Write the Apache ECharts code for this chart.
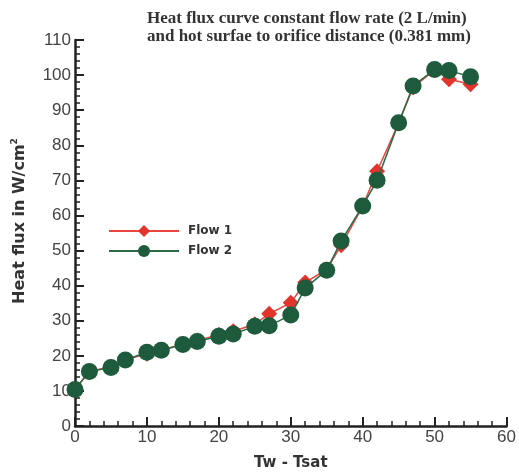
<!DOCTYPE html>
<html>
<head>
<meta charset="utf-8">
<script src="https://cdn.jsdelivr.net/npm/echarts@6/dist/echarts.min.js"></script>
<style>
  html, body { margin: 0; padding: 0; background: #fff; }
  #main { width: 519px; height: 476px; }
</style>
</head>
<body>
<div id="main"></div>
<script>
// Tw - Tsat values
var tw = [0, 2, 5, 7, 10, 12, 15, 17, 20, 22, 25, 27, 30, 32, 35, 37, 40, 42, 45, 47, 50, 52, 55];
// heat flux, W/cm2
var flow1 = [10.5, 15.6, 16.8, 18.9, 20.6, 21.7, 23.3, 24.4, 26.0, 27.0, 29.0, 32.0, 35.1, 40.9, 44.6, 51.5, 62.6, 72.6, 86.3, 96.5, 101.5, 98.8, 97.4];
var flow2 = [10.4, 15.5, 16.7, 18.8, 21.0, 21.6, 23.2, 24.1, 25.6, 26.2, 28.4, 28.6, 31.6, 39.3, 44.4, 52.7, 62.7, 70.0, 86.4, 96.9, 101.6, 101.3, 99.5];
var seriesNames = ['Flow 1', 'Flow 2'];

function pairs(xs, ys) {
    return xs.map(function (x, i) { return [x, ys[i]]; });
}

var chart = echarts.init(document.getElementById('main'), null, {renderer: 'canvas'});

var axisColor = '#222';
var labelStyle = {
    color: '#444',
    fontFamily: 'Liberation Sans',
    fontSize: 17
};

var option = {
    animation: false,
    title: {
        text: 'Heat flux curve constant flow rate (2 L/min)\nand hot surfae to orifice distance (0.381 mm)',
        left: 142,
        top: 5,
        textStyle: {
            fontFamily: 'Liberation Serif',
            fontWeight: 'bold',
            fontSize: 17,
            lineHeight: 18,
            color: '#333'
        }
    },
    legend: {
        orient: 'vertical',
        left: 103,
        top: 220,
        itemWidth: 70,
        itemHeight: 15,
        itemGap: 8,
        data: seriesNames,
        textStyle: {
            fontFamily: 'DejaVu Sans',
            fontWeight: 'bold',
            fontSize: 12,
            color: '#333',
            padding: [0, 0, 0, 4]
        }
    },
    grid: {
        left: 75,
        right: 10,
        top: 40,
        bottom: 42
    },
    xAxis: {
        type: 'value',
        min: 0,
        max: 60,
        interval: 10,
        name: 'Tw - Tsat',
        nameLocation: 'middle',
        nameGap: 30,
        nameTextStyle: {
            fontFamily: 'DejaVu Sans',
            fontWeight: 'bold',
            fontSize: 15,
            color: '#333'
        },
        axisLine: { show: true, lineStyle: { color: axisColor, width: 2.5 } },
        axisTick: { show: true, inside: true, length: 9, lineStyle: { color: axisColor, width: 2 } },
        minorTick: { show: true, splitNumber: 5, length: 5, lineStyle: { color: axisColor, width: 1.5 } },
        splitLine: { show: false },
        axisLabel: Object.assign({ margin: 3 }, labelStyle)
    },
    yAxis: {
        type: 'value',
        min: 0,
        max: 110,
        interval: 10,
        name: 'Heat flux in W/cm{sup|2}',
        nameLocation: 'middle',
        nameRotate: 90,
        nameGap: 46,
        nameTextStyle: {
            fontFamily: 'DejaVu Sans',
            fontWeight: 'bold',
            fontSize: 16,
            color: '#333',
            padding: [0, 0, 0, 24],
            rich: {
                sup: {
                    fontFamily: 'DejaVu Sans',
                    fontWeight: 'bold',
                    fontSize: 9,
                    color: '#333',
                    verticalAlign: 'top',
                    padding: [0, 0, 10, 0]
                }
            }
        },
        axisLine: { show: true, lineStyle: { color: axisColor, width: 2.5 } },
        axisTick: { show: true, inside: true, length: 9, lineStyle: { color: axisColor, width: 2 } },
        minorTick: { show: true, splitNumber: 5, length: 5, lineStyle: { color: axisColor, width: 1.5 } },
        splitLine: { show: false },
        axisLabel: Object.assign({ margin: 4 }, labelStyle)
    },
    series: [
        {
            name: seriesNames[0],
            type: 'line',
            data: pairs(tw, flow1),
            symbol: 'diamond',
            symbolSize: 16,
            itemStyle: { color: '#e0342c' },
            lineStyle: { color: '#e8463e', width: 1.5 },
            z: 2
        },
        {
            name: seriesNames[1],
            type: 'line',
            data: pairs(tw, flow2),
            symbol: 'circle',
            symbolSize: 17,
            itemStyle: { color: '#1e5a3c' },
            lineStyle: { color: '#2a6a48', width: 1.5 },
            z: 3
        }
    ]
};

chart.setOption(option);
</script>
</body>
</html>
